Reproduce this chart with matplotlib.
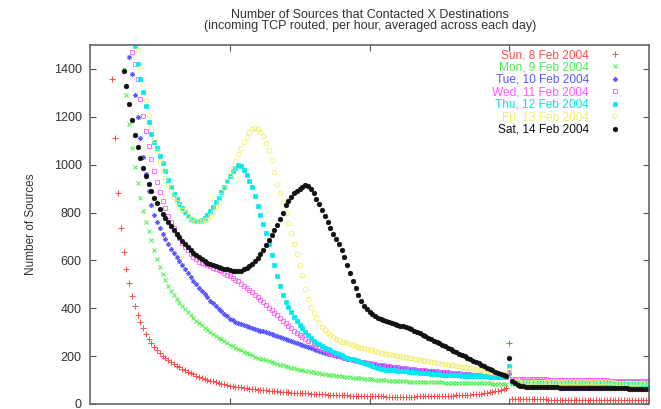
import matplotlib
matplotlib.use("Agg")
import matplotlib.pyplot as plt

plt.rcParams['font.family'] = ['Liberation Sans', 'DejaVu Sans']

title_line1 = "Number of Sources that Contacted X Destinations"
title_line2 = "(incoming TCP routed, per hour, averaged across each day)"
ylabel = "Number of Sources"
labels = ["Sun, 8 Feb 2004", "Mon, 9 Feb 2004", "Tue, 10 Feb 2004", "Wed, 11 Feb 2004",
          "Thu, 12 Feb 2004", "Fri, 13 Feb 2004", "Sat, 14 Feb 2004"]
yticks = [0, 200, 400, 600, 800, 1000, 1200, 1400]
xticks = [50, 100, 150]

# first x (number of destinations index) of each series; values follow at unit steps
sun_start = 8
sun = [1360, 1110, 880, 735, 635, 565, 505,
       452, 408, 372, 342, 316, 293, 273, 256, 240, 226,
       213, 202, 192, 183, 174, 167, 160, 153, 147, 141,
       135, 129, 124, 119, 114, 110, 106, 102, 98, 95,
       92, 88, 85, 82, 79, 77, 75, 73, 71, 69,
       67, 66, 64, 63, 61, 60, 59, 58, 57, 56,
       55, 54, 53, 52, 51, 50, 49, 48, 47, 46,
       46, 45, 44, 44, 43, 42, 42, 41, 40, 40,
       39, 39, 38, 38, 37, 37, 36, 36, 35, 35,
       35, 34, 34, 34, 33, 33, 33, 32, 32, 32,
       32, 31, 31, 31, 31, 31, 31, 31, 31, 31,
       31, 31, 32, 32, 32, 32, 32, 33, 33, 33,
       33, 34, 34, 34, 35, 35, 36, 36, 37, 38,
       38, 39, 40, 41, 42, 43, 45, 47, 49, 51,
       53, 56, 59, 62, 66, 255,
       21, 20, 20, 20, 19, 19, 19, 19, 19, 19,
       19, 19, 19, 18, 18, 18, 18, 18, 18, 18,
       18, 18, 18, 18, 18, 18, 18, 18, 18, 18,
       18, 18, 17, 17, 17, 17, 17, 17, 17, 17,
       17, 17, 17, 17, 17, 17, 17, 17, 17, 17]

mon_start = 12
mon = [1400, 1290, 1170, 1070, 990, 925, 860, 805, 760, 722,
       684, 645, 606, 572, 545, 518, 495, 474, 456, 440,
       424, 409, 395, 383, 371, 359, 348, 337, 328, 318,
       309, 301, 293, 285, 277, 270, 262, 255, 248, 242,
       236, 230, 224, 218, 213, 208, 203, 198, 194, 190,
       186, 182, 178, 174, 170, 167, 164, 161, 158, 155,
       152, 149, 146, 144, 141, 139, 137, 135, 133, 131,
       129, 127, 125, 123, 121, 120, 118, 117, 115, 114,
       112, 111, 110, 109, 108, 107, 106, 105, 104, 103,
       102, 101, 100, 99, 99, 98, 97, 97, 96, 96,
       95, 95, 94, 94, 93, 93, 92, 92, 92, 91,
       91, 91, 90, 90, 90, 89, 89, 89, 89, 88,
       88, 88, 88, 87, 87, 87, 87, 87, 86, 86,
       86, 86, 85, 85, 85, 84, 84, 83, 115,
       84, 83, 83, 82, 82, 82, 82, 82, 81, 81,
       81, 81, 81, 81, 81, 80, 80, 80, 80, 80,
       80, 80, 80, 80, 80, 79, 79, 79, 79, 79,
       79, 79, 79, 79, 79, 78, 78, 78, 78, 78,
       78, 78, 78, 78, 78, 78, 77, 77, 77, 77]

tue_start = 14
tue = [1450, 1380, 1290, 1200, 1110, 1030, 960, 890, 830, 790,
       760, 735, 712, 690, 668, 648, 630, 613, 596, 580,
       563, 546, 530, 515, 500, 486, 472, 458, 445, 432,
       420, 409, 398, 387, 376, 366, 357, 350, 344, 339,
       335, 331, 327, 323, 319, 315, 311, 307, 303, 299,
       295, 291, 287, 283, 279, 275, 271, 267, 263, 259,
       255, 251, 247, 243, 239, 235, 231, 227, 223, 219,
       215, 211, 208, 205, 202, 199, 196, 193, 190, 187,
       184, 181, 179, 177, 175, 173, 171, 169, 167, 165,
       163, 161, 159, 157, 155, 153, 151, 149, 148, 147,
       146, 145, 144, 143, 142, 141, 140, 139, 138, 137,
       136, 135, 134, 133, 132, 131, 130, 129, 128, 127,
       126, 125, 124, 123, 122, 121, 120, 119, 118, 117,
       116, 115, 114, 113, 112, 111, 130,
       98, 97, 97, 96, 96, 96, 95, 95, 95, 95,
       95, 95, 94, 94, 94, 94, 94, 94, 93, 93,
       93, 93, 93, 93, 93, 93, 92, 92, 92, 92,
       92, 92, 92, 92, 92, 91, 91, 91, 91, 91,
       91, 91, 91, 90, 90, 90, 90, 90, 90, 90]

wed_start = 15
wed = [1470, 1420, 1360, 1275, 1205, 1140, 1078, 1022, 972, 926,
       886, 850, 817, 787, 759, 734, 712, 692, 674, 657,
       642, 628, 615, 604, 595, 590, 585, 580, 575, 570,
       565, 560, 554, 548, 541, 534, 527, 520, 512, 503,
       494, 485, 476, 466, 456, 446, 436, 425, 414, 403,
       392, 381, 370, 359, 348, 337, 327, 317, 307, 298,
       289, 280, 272, 264, 256, 249, 242, 236, 230, 224,
       219, 214, 209, 205, 201, 197, 194, 191, 188, 185,
       182, 180, 177, 175, 173, 171, 169, 167, 165, 163,
       161, 159, 158, 156, 155, 153, 152, 150, 149, 147,
       146, 145, 143, 142, 141, 140, 138, 137, 136, 135,
       134, 133, 132, 131, 130, 129, 128, 127, 126, 125,
       124, 123, 122, 121, 120, 119, 118, 118, 117, 116,
       116, 115, 115, 114, 114, 135,
       106, 105, 105, 105, 104, 104, 104, 104, 103, 103,
       103, 103, 103, 102, 102, 102, 102, 102, 101, 101,
       101, 101, 101, 100, 100, 100, 100, 100, 100, 99,
       99, 99, 99, 99, 99, 98, 98, 98, 98, 98,
       98, 97, 97, 97, 97, 97, 96, 96, 96, 96]

thu_start = 16
thu = [1495, 1420, 1360, 1305, 1245, 1178, 1128, 1095, 1068, 1038,
       1005, 972, 937, 906, 878, 855, 836, 818, 802, 787,
       775, 767, 763, 763, 768, 777, 790, 805, 822, 842,
       862, 884, 906, 930, 953, 972, 988, 998, 994, 978,
       958, 932, 905, 868, 826, 790, 752, 715, 668, 622,
       580, 535, 492, 455, 428, 405, 383, 364, 346, 331,
       316, 302, 288, 275, 265, 256, 249, 242, 236, 230,
       225, 219, 213, 208, 203, 198, 194, 190, 186, 182,
       178, 174, 170, 166, 162, 158, 154, 150, 147, 145,
       143, 142, 141, 140, 139, 138, 137, 136, 135, 134,
       133, 132, 131, 130, 129, 128, 127, 126, 125, 124,
       123, 122, 122, 121, 121, 120, 120, 119, 119, 118,
       118, 117, 117, 116, 116, 115, 115, 114, 114, 113,
       113, 112, 112, 111, 160,
       94, 93, 93, 92, 92, 92, 91, 91, 91, 91,
       91, 90, 90, 90, 90, 90, 90, 89, 89, 89,
       89, 89, 89, 89, 88, 88, 88, 88, 88, 88,
       88, 88, 87, 87, 87, 87, 87, 87, 87, 86,
       86, 86, 86, 86, 86, 86, 85, 85, 85, 85]

fri_start = 17
fri = [1480, 1405, 1335, 1270, 1208, 1152, 1102, 1057, 1016, 979,
       946, 916, 889, 865, 844, 826, 811, 798, 787, 778,
       771, 766, 763, 764, 768, 775, 786, 802, 822, 846,
       874, 903, 932, 960, 988, 1016, 1044, 1070, 1095, 1117,
       1135, 1148, 1155, 1150, 1138, 1118, 1092, 1060, 1020, 968,
       920, 880, 845, 800, 758, 715, 670, 625, 582, 540,
       482, 437, 405, 380, 358, 339, 323, 309, 297, 287,
       279, 272, 266, 261, 257, 253, 249, 245, 242, 239,
       236, 233, 230, 227, 224, 221, 218, 215, 212, 209,
       207, 205, 203, 201, 199, 197, 195, 193, 191, 189,
       187, 185, 183, 181, 179, 177, 175, 173, 171, 169,
       167, 165, 163, 161, 159, 157, 155, 153, 151, 149,
       147, 145, 143, 141, 139, 137, 135, 133, 131, 129,
       127, 125, 123, 140,
       96, 95, 95, 94, 94, 94, 94, 93, 93, 93,
       93, 93, 93, 92, 92, 92, 92, 92, 92, 92,
       91, 91, 91, 91, 91, 91, 91, 91, 90, 90,
       90, 90, 90, 90, 90, 90, 90, 89, 89, 89,
       89, 89, 89, 89, 89, 89, 88, 88, 88, 88]

sat_start = 12
sat = [1390, 1330, 1255, 1185, 1125, 1075, 1028, 988, 952, 920,
       888, 862, 838, 815, 795, 777, 760, 745, 728, 712,
       697, 683, 668, 655, 643, 632, 622, 613, 605, 598,
       591, 585, 580, 575, 571, 568, 565, 562, 560, 557,
       555, 555, 557, 562, 568, 576, 586, 598, 612, 627,
       645, 663, 685, 705, 728, 750, 772, 800, 830, 848,
       865, 880, 892, 900, 908, 915, 912, 898, 880, 858,
       835, 810, 787, 762, 735, 712, 690, 668, 645, 615,
       580, 548, 515, 485, 455, 430, 410, 395, 385, 376,
       368, 360, 354, 349, 345, 341, 337, 333, 330, 327,
       324, 320, 316, 312, 307, 301, 295, 289, 283, 277,
       271, 265, 259, 253, 247, 241, 235, 229, 223, 217,
       211, 205, 199, 193, 187, 181, 175, 170, 164, 158,
       152, 146, 140, 135, 130, 125, 120, 116, 193,
       95, 86, 80, 77, 75, 73, 72, 72, 71, 71,
       70, 70, 70, 69, 69, 69, 69, 68, 68, 68,
       68, 68, 67, 67, 67, 67, 67, 67, 66, 66,
       66, 66, 66, 66, 66, 65, 65, 65, 65, 65,
       65, 65, 64, 64, 64, 64, 64, 64, 63, 63]

series = [(sun_start, sun), (mon_start, mon), (tue_start, tue), (wed_start, wed),
          (thu_start, thu), (fri_start, fri), (sat_start, sat)]

styles = [
    dict(marker='+', color='#ff4d4d', ms=4.0, mew=0.7, mfc='none'),
    dict(marker='x', color='#4ded4d', ms=3.0, mew=0.7, mfc='none'),
    dict(marker=(8, 2, 0), color='#5a5aff', ms=3.6, mew=0.6, mfc='none'),
    dict(marker='s', color='#ff5cff', ms=3.2, mew=0.6, mfc='none'),
    dict(marker='s', color='#00e8f0', ms=3.3, mew=0.5, mfc='#00e8f0'),
    dict(marker='o', color='#f2ee6a', ms=3.4, mew=0.6, mfc='none'),
    dict(marker='o', color='#111111', ms=3.4, mew=0.4, mfc='#111111'),
]

W, H = 661, 409
fig = plt.figure(figsize=(W / 100, H / 100), dpi=100)
ax = fig.add_axes([90 / W, (H - 404) / H, (649 - 90) / W, (404 - 45) / H])

for (start, vals), st, lab in zip(series, styles, labels):
    xs = list(range(start, start + len(vals)))
    ax.plot(xs, vals, linestyle='none', label=lab, **st)

ax.set_xlim(0, 200)
ax.set_ylim(0, 1500)
ax.set_yticks(yticks)
ax.set_xticks(xticks)
ax.set_xticklabels([])
ax.tick_params(axis='both', direction='in', length=4, width=0.8, color='#555555',
               top=True, right=True, labelsize=9, labelcolor='#333333', pad=6)
for sp in ax.spines.values():
    sp.set_color('#666666')
    sp.set_linewidth(1.2)

ax.set_ylabel(ylabel, fontsize=8.5, color='#333333', labelpad=12)

fig.text(370 / W, 1 - 15 / H, title_line1, ha='center', va='center', fontsize=9.0, color='#333333')
fig.text(370 / W, 1 - 26 / H, title_line2, ha='center', va='center', fontsize=9.0, color='#333333')

leg = ax.legend(loc='upper right', bbox_to_anchor=(621 / W, 1 - 49 / H),
                bbox_transform=fig.transFigure, frameon=False, markerfirst=False,
                labelcolor='linecolor', fontsize=8.6, handlelength=1.0,
                handletextpad=1.7, labelspacing=0.04, borderpad=0, borderaxespad=0)

fig.savefig('out.png', dpi=100)
